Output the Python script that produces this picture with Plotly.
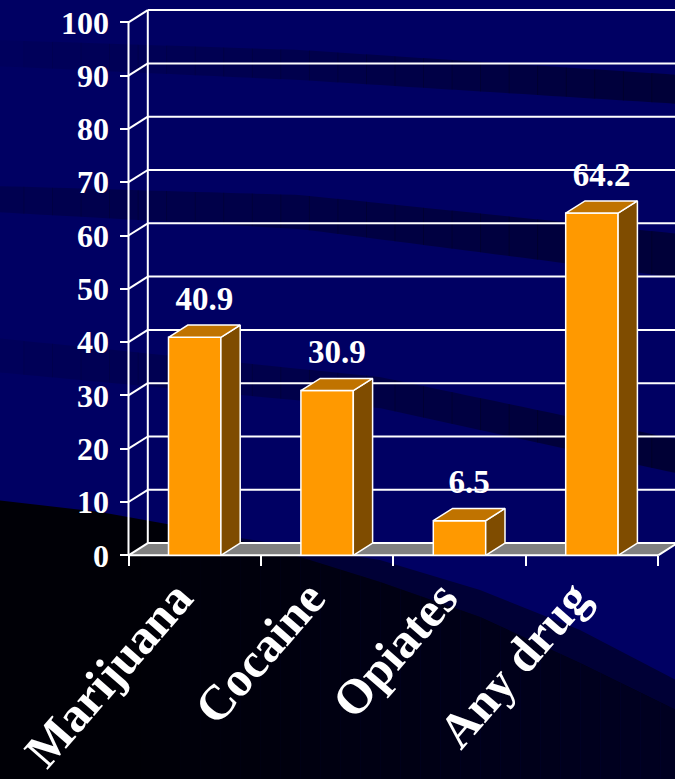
import numpy as np
import plotly.graph_objects as go

# ---- data -------------------------------------------------------------
categories = ["Marijuana", "Cocaine", "Opiates", "Any drug"]
percent_values = [40.9, 30.9, 6.5, 64.2]
value_labels = ["40.9", "30.9", "6.5", "64.2"]
y_tick_values = [0, 10, 20, 30, 40, 50, 60, 70, 80, 90, 100]
y_tick_labels = ["0", "10", "20", "30", "40", "50", "60", "70", "80", "90", "100"]

# ---- page / scale geometry -------------------------------------------
W, H = 675, 779
M_L, M_R, M_T, M_B = 120, 0, 0, 219
PX_CAT = 132.4        # pixels per category slot
PX_UNIT = 5.33        # pixels per percentage point
AXIS_X_PX = 128.5     # pixel column of the front value axis
ZERO_Y_PX = 555.3     # pixel row of the zero line

plot_w = W - M_L - M_R
plot_h = H - M_T - M_B
x0 = -0.5 - (AXIS_X_PX - M_L) / PX_CAT
x1 = x0 + plot_w / PX_CAT
y0 = -((H - M_B) - ZERO_Y_PX) / PX_UNIT
y1 = y0 + plot_h / PX_UNIT

DX = 19.3 / PX_CAT    # depth of the 3-D extrusion (x, data units)
DY = 12.2 / PX_UNIT   # depth of the 3-D extrusion (y, data units)
BAR_W = 52.4 / PX_CAT
LABEL_SHIFT = -18 / PX_CAT   # slanted category labels sit a little left of centre

FONT = "Liberation Serif"
WHITE = "#FFFFFF"
FRONT = "#FF9900"
TOP = "#C07300"
SIDE = "#7F4C00"
FLOOR = "#808080"

n = len(categories)
xs = list(range(n))
x_left_edge = -0.5
x_right_edge = n - 0.5
v_max = y_tick_values[-1]


def paper_xy(px, py):
    return (px - M_L) / plot_w, ((H - M_B) - py) / plot_h


def paper_path(points):
    pts = [paper_xy(px, py) for px, py in points]
    return "M " + " L ".join(f"{a:.5f},{b:.5f}" for a, b in pts) + " Z"


shapes = []


def add_poly(points, color):
    shapes.append(dict(type="path", xref="paper", yref="paper", layer="below",
                       path=paper_path(points), fillcolor=color, line=dict(width=0)))


# ---- backdrop: navy slide with dark sweeping bands -------------------
def fading_band(top, bottom, alpha_left, alpha_right, steps=24):
    tx, ty = np.array(top, dtype=float).T
    bx, by = np.array(bottom, dtype=float).T
    edges = np.linspace(-5, 680, steps + 1)
    for i in range(steps):
        a, b = edges[i], edges[i + 1] + 0.8
        sx = np.linspace(a, b, 3)
        upper = list(zip(sx, np.interp(sx, tx, ty)))
        lower = list(zip(sx[::-1], np.interp(sx[::-1], bx, by)))
        t = (i + 0.5) / steps
        alpha = alpha_left + (alpha_right - alpha_left) * t
        add_poly(upper + lower, f"rgba(0,0,28,{alpha:.3f})")


fading_band([(-5, 40), (300, 50), (680, 75)], [(-5, 66), (300, 80), (680, 104)], 0.08, 0.6)
fading_band([(-5, 186), (300, 195), (680, 234)], [(-5, 212), (300, 229), (680, 278)], 0.25, 0.6)
fading_band([(-5, 338), (380, 377), (680, 440)], [(-5, 372), (380, 408), (680, 474)], 0.12, 0.65)

# medium dark sweep along the lower right
mid_top = [(240, 538), (380, 560), (480, 590), (580, 630), (680, 682)]
add_poly(mid_top + [(680, 790), (240, 790)], "#000036")

# black lower-left region, with a soft lift towards the lower right
curve_x = np.array([-5, 100, 200, 300, 380, 480, 580, 680], dtype=float)
curve_y = np.array([500, 512, 530, 557, 582, 617, 663, 712], dtype=float)
add_poly(list(zip(curve_x, curve_y)) + [(680, 790), (-5, 790)], "#000006")
strip_edges = np.linspace(120, 680, 29)
for i in range(len(strip_edges) - 1):
    a, b = strip_edges[i], strip_edges[i + 1] + 0.8
    seg_x = np.linspace(a, b, 4)
    seg_y = np.interp(seg_x, curve_x, curve_y)
    alpha = 0.7 * (i + 1) / (len(strip_edges) - 1)
    add_poly(list(zip(seg_x, seg_y)) + [(b, 790), (a, 790)], f"rgba(0,0,46,{alpha:.3f})")

# ---- 3-D frame: floor, back wall grid, side wall ---------------------
floor_path = (f"M {x_left_edge},0 L {x_right_edge},0 L {x_right_edge + DX},{DY} "
              f"L {x_left_edge + DX},{DY} Z")
shapes.append(dict(type="path", xref="x", yref="y", layer="below", path=floor_path,
                   fillcolor=FLOOR, line=dict(width=0)))


def seg(xa, ya, xb, yb, width=2):
    shapes.append(dict(type="line", xref="x", yref="y", layer="below",
                       x0=xa, y0=ya, x1=xb, y1=yb, line=dict(color=WHITE, width=width)))


for v in y_tick_values:
    seg(x_left_edge + DX, v + DY, x1 + 1, v + DY)          # back wall gridline
    seg(x_left_edge, v, x_left_edge + DX, v + DY)           # side wall rung
seg(x_left_edge + DX, DY, x_left_edge + DX, v_max + DY)     # back wall left edge
seg(x_left_edge, 0, x_left_edge, v_max)                     # front value axis
seg(x_left_edge, 0, x_right_edge, 0)                        # front category axis
seg(x_right_edge, 0, x_right_edge + DX, DY)                 # floor right edge

# ---- bars: front faces + extruded top and side faces -----------------
fig = go.Figure()
fig.add_trace(go.Bar(x=xs, y=percent_values, width=BAR_W,
                     marker=dict(color=FRONT, line=dict(color=WHITE, width=1.5)),
                     hoverinfo="skip"))

top_x, top_y, side_x, side_y = [], [], [], []
for xc, v in zip(xs, percent_values):
    xl, xr = xc - BAR_W / 2, xc + BAR_W / 2
    top_x += [xl, xr, xr + DX, xl + DX, xl, None]
    top_y += [v, v, v + DY, v + DY, v, None]
    side_x += [xr, xr + DX, xr + DX, xr, xr, None]
    side_y += [0, DY, v + DY, v, 0, None]

fig.add_trace(go.Scatter(x=side_x, y=side_y, mode="lines", fill="toself",
                         fillcolor=SIDE, line=dict(color=WHITE, width=1.5),
                         hoverinfo="skip"))
fig.add_trace(go.Scatter(x=top_x, y=top_y, mode="lines", fill="toself",
                         fillcolor=TOP, line=dict(color=WHITE, width=1.5),
                         hoverinfo="skip"))

# value labels above each bar
label_lift = 7.0 / PX_UNIT
fig.add_trace(go.Scatter(x=[xc + DX / 2 for xc in xs],
                         y=[v + DY + label_lift for v in percent_values],
                         mode="text", text=value_labels, textposition="top center",
                         cliponaxis=False,
                         textfont=dict(family=FONT, size=33, color=WHITE, weight="bold"),
                         hoverinfo="skip"))

fig.update_layout(
    width=W, height=H,
    margin=dict(l=M_L, r=M_R, t=M_T, b=M_B, pad=0),
    paper_bgcolor="#000063",
    plot_bgcolor="rgba(0,0,0,0)",
    showlegend=False,
    shapes=shapes,
    xaxis=dict(
        range=[x0, x1], tickmode="array", tickvals=[xc + LABEL_SHIFT for xc in xs],
        ticktext=categories, automargin=False,
        tickangle=-49, ticks="", showgrid=False, zeroline=False, showline=False,
        anchor="free", position=(0 - y0) / (y1 - y0),
        tickfont=dict(family=FONT, size=49, color=WHITE, weight="bold"),
        ticklabelstandoff=3,
        minor=dict(tickmode="array", tickvals=[x_left_edge + k for k in range(n + 1)],
                   ticks="outside", ticklen=10, tickwidth=2, tickcolor=WHITE,
                   showgrid=False),
    ),
    yaxis=dict(
        range=[y0, y1], tickmode="array", tickvals=y_tick_values, ticktext=y_tick_labels,
        ticks="outside", ticklen=9, tickwidth=2, tickcolor=WHITE, automargin=False,
        showgrid=False, zeroline=False, showline=False,
        anchor="free", position=(x_left_edge - x0) / (x1 - x0),
        tickfont=dict(family=FONT, size=32, color=WHITE, weight="bold"),
        ticklabelstandoff=4,
    ),
)

fig.write_html("out.html")
